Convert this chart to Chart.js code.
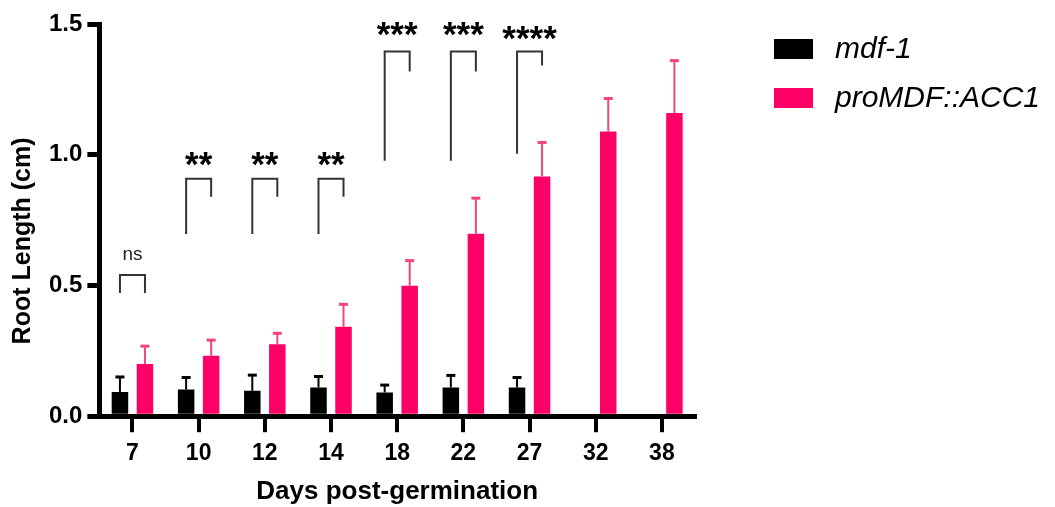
<!DOCTYPE html>
<html><head><meta charset="utf-8">
<script src="https://cdn.jsdelivr.net/npm/chart.js@4.4.1/dist/chart.umd.min.js"></script>
<style>html,body{margin:0;padding:0;background:#fff}#wrap{width:1055px;height:507px}</style>
</head><body><div id="wrap"><canvas id="c" width="1055" height="507"></canvas></div>
<script>
const categories = ['7','10','12','14','18','22','27','32','38'];
const seriesNames = ['mdf-1','proMDF::ACC1'];
const mdfMean = [0.093,0.102,0.097,0.110,0.091,0.110,0.110,null,null];
const mdfErr  = [0.057,0.046,0.060,0.042,0.028,0.046,0.038,null,null];
const accMean = [0.200,0.231,0.275,0.342,0.499,0.698,0.917,1.089,1.160];
const accErr  = [0.068,0.060,0.042,0.086,0.096,0.136,0.130,0.126,0.200];
const yTicks = [0, 0.5, 1.0, 1.5];
const sigCategories = ['7','10','12','14','18','22','27'];
const sigLabels = ['ns','**','**','**','***','***','****'];
const sigTextY = [0.617,0.983,0.983,0.983,1.479,1.479,1.466];
const bracketTop = [0.540,0.908,0.908,0.908,1.395,1.395,1.395];
const bracketLeftBottom = [0.471,0.697,0.697,0.697,0.977,0.977,1.004];
const bracketRightBottom = [0.471,0.839,0.839,0.839,1.318,1.318,1.341];

const FONT = "'Liberation Sans', Arial, Helvetica, sans-serif";
const BLACK = '#000000';
const PINK = '#ff0066';
const PINK_ERR = '#f0457f';

const errorBars = {
  id: 'errorBars',
  afterDatasetsDraw(chart) {
    const ctx = chart.ctx, y = chart.scales.y;
    chart.data.datasets.forEach((ds, i) => {
      const meta = chart.getDatasetMeta(i);
      ds.data.forEach((v, j) => {
        const e = ds.errors[j];
        if (v == null || e == null) return;
        const x = meta.data[j].x;
        const yb = y.getPixelForValue(v);
        const yt = y.getPixelForValue(v + e);
        ctx.save();
        ctx.strokeStyle = ds.errorColor;
        ctx.lineWidth = 2;
        ctx.beginPath(); ctx.moveTo(x, yb); ctx.lineTo(x, yt); ctx.stroke();
        ctx.lineWidth = 3;
        ctx.beginPath(); ctx.moveTo(x - 4.5, yt); ctx.lineTo(x + 4.5, yt); ctx.stroke();
        ctx.restore();
      });
    });
  }
};

const significance = {
  id: 'significance',
  afterDatasetsDraw(chart) {
    const ctx = chart.ctx, y = chart.scales.y;
    const m0 = chart.getDatasetMeta(0), m1 = chart.getDatasetMeta(1);
    sigCategories.forEach((c, k) => {
      const idx = categories.indexOf(c);
      const xl = m0.data[idx].x, xr = m1.data[idx].x;
      ctx.save();
      ctx.strokeStyle = '#333333';
      ctx.lineWidth = 2;
      ctx.beginPath();
      ctx.moveTo(xl, y.getPixelForValue(bracketLeftBottom[k]));
      ctx.lineTo(xl, y.getPixelForValue(bracketTop[k]));
      ctx.lineTo(xr, y.getPixelForValue(bracketTop[k]));
      ctx.lineTo(xr, y.getPixelForValue(bracketRightBottom[k]));
      ctx.stroke();
      const label = sigLabels[k];
      ctx.fillStyle = label === 'ns' ? '#222222' : '#000000';
      ctx.font = label === 'ns' ? "19px " + FONT : "bold 35px " + FONT;
      ctx.textAlign = 'center';
      ctx.textBaseline = 'alphabetic';
      const mt = ctx.measureText(label);
      const cy = y.getPixelForValue(sigTextY[k]);
      const by = cy + (mt.actualBoundingBoxAscent - mt.actualBoundingBoxDescent) / 2;
      ctx.fillText(label, (xl + xr) / 2, by);
      ctx.restore();
    });
  }
};

const customLegend = {
  id: 'customLegend',
  afterDraw(chart) {
    const ctx = chart.ctx;
    const x0 = 774, boxW = 39, boxH = 20, textX = 835, y0 = 49, step = 49;
    chart.data.datasets.forEach((ds, i) => {
      const cy = y0 + i * step;
      ctx.save();
      ctx.fillStyle = ds.backgroundColor;
      ctx.fillRect(x0, cy - boxH / 2, boxW, boxH);
      ctx.fillStyle = '#000';
      ctx.font = "italic 30px " + FONT;
      ctx.textAlign = 'left';
      ctx.textBaseline = 'middle';
      ctx.fillText(ds.label, textX, cy + 1);
      ctx.restore();
    });
  }
};

new Chart(document.getElementById('c'), {
  type: 'bar',
  data: {
    labels: categories,
    datasets: [
      { label: seriesNames[0], data: mdfMean, errors: mdfErr, backgroundColor: BLACK, errorColor: BLACK, borderWidth: 0,
        categoryPercentage: 0.756, barPercentage: 0.66 },
      { label: seriesNames[1], data: accMean, errors: accErr, backgroundColor: PINK, errorColor: PINK_ERR, borderWidth: 0,
        categoryPercentage: 0.756, barPercentage: 0.66 }
    ]
  },
  options: {
    responsive: false,
    devicePixelRatio: 1,
    animation: false,
    layout: { padding: { left: 0, right: 360, top: 24, bottom: 0 } },
    plugins: { legend: { display: false }, tooltip: { enabled: false } },
    scales: {
      x: {
        offset: true,
        grid: { drawOnChartArea: false, offset: false, tickLength: 16, lineWidth: 4, color: '#000' },
        border: { display: true, width: 5, color: '#000' },
        ticks: { color: '#000', padding: 8, font: { family: FONT, size: 23, weight: 'bold' } },
        title: { display: true, text: 'Days post-germination', color: '#000',
                 font: { family: FONT, size: 26, weight: 'bold' }, padding: { top: 0, bottom: 0 } }
      },
      y: {
        min: 0, max: 1.5,
        afterBuildTicks: s => { s.ticks = yTicks.map(v => ({ value: v })); },
        grid: { drawOnChartArea: false, tickLength: 12, lineWidth: 5, color: '#000' },
        border: { display: true, width: 5, color: '#000' },
        ticks: { color: '#000', padding: 5, font: { family: FONT, size: 24, weight: 'bold' },
                 callback: v => Number(v).toFixed(1) },
        title: { display: true, text: 'Root Length (cm)      ', color: '#000',
                 font: { family: FONT, size: 25, weight: 'bold' }, padding: { top: 8, bottom: 6 } }
      }
    }
  },
  plugins: [errorBars, significance, customLegend]
});
</script>
</body></html>
